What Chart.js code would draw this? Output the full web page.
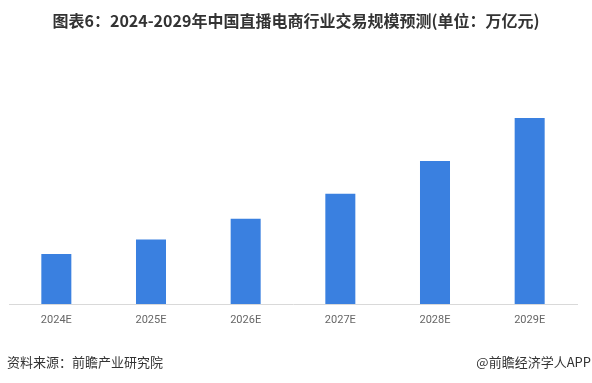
<!DOCTYPE html>
<html>
<head>
<meta charset="utf-8">
<script src="https://cdn.jsdelivr.net/npm/chart.js@4/dist/chart.umd.min.js"></script>
<style>
  html, body { margin: 0; padding: 0; background: #ffffff; }
  #wrap { position: relative; width: 592px; height: 383px; overflow: hidden; background: #fff; }
  #c { position: absolute; left: 0; top: 0; }
  .title { position: absolute; left: 0; top: 9px; width: 592px; text-align: center;
    font-family: "Noto Sans CJK SC", "DejaVu Sans", sans-serif; font-weight: bold; font-size: 16px;
    color: #333333; line-height: 22px; white-space: nowrap; }
  .foot { position: absolute; top: 353px; font-family: "Noto Sans CJK SC", sans-serif; font-size: 13px;
    color: #333333; line-height: 18px; white-space: nowrap; }
</style>
</head>
<body>
<div id="wrap">
  <canvas id="c" width="592" height="383"></canvas>
  <div class="title">图表6：2024-2029年中国直播电商行业交易规模预测(单位：万亿元)</div>
  <div class="foot" style="left:7px;">资料来源：前瞻产业研究院</div>
  <div class="foot" style="right:1px;">@前瞻经济学人APP</div>
</div>
<script>
const categories = ["2024E", "2025E", "2026E", "2027E", "2028E", "2029E"];
const tradeScale = [5.8, 7.5, 9.9, 12.8, 16.6, 21.6];
const yMax = 26;

new Chart(document.getElementById('c'), {
  type: 'bar',
  data: {
    labels: categories,
    datasets: [{
      data: tradeScale,
      backgroundColor: '#3a80e0',
      borderWidth: 0,
      barPercentage: 0.317,
      categoryPercentage: 1.0
    }]
  },
  options: {
    responsive: false,
    animation: false,
    devicePixelRatio: 1,
    layout: { padding: { left: 9, right: 15, top: 80, bottom: 0 } },
    plugins: { legend: { display: false }, tooltip: { enabled: false }, title: { display: false } },
    scales: {
      x: {
        grid: { display: false, drawTicks: false },
        border: { display: true, color: '#d9d9d9', width: 1 },
        ticks: { color: '#666666', font: { family: 'Roboto, "Noto Sans", sans-serif', size: 11 }, padding: 10, maxRotation: 0 },
        afterFit: (s) => { s.height = 79; }
      },
      y: {
        display: false,
        min: 0,
        max: yMax
      }
    }
  }
});
</script>
</body>
</html>
